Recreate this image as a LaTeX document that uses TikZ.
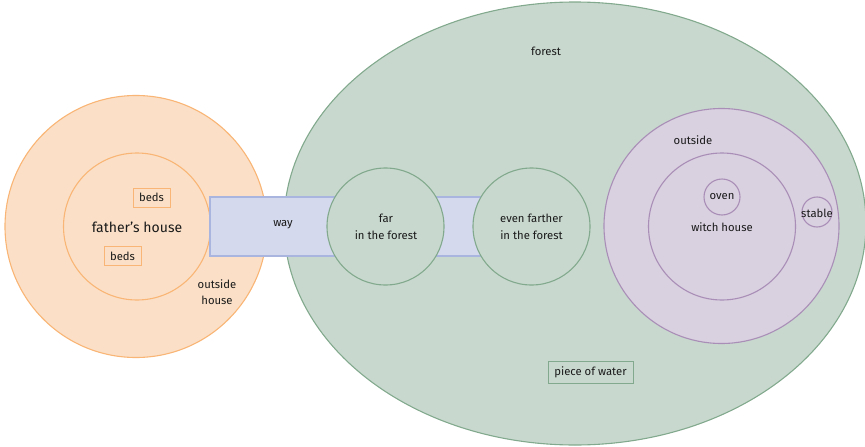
\documentclass[tikz,border=0pt]{standalone}
\usepackage{fontspec}
\setmainfont{Fira Sans}
\usetikzlibrary{shapes.geometric}
\definecolor{orfill}{HTML}{FBE0C7}
\definecolor{ordraw}{HTML}{F9B575}
\definecolor{grfill}{HTML}{C8D8CE}
\definecolor{grdraw}{HTML}{82A98D}
\definecolor{blfill}{HTML}{D4D9ED}
\definecolor{bldraw}{HTML}{A9B5DF}
\definecolor{pufill}{HTML}{D9D0E0}
\definecolor{pudraw}{HTML}{A98FB7}
\definecolor{txt}{HTML}{1A1A1A}
\tikzset{
  ring/.style={circle, inner sep=0pt, line width=1.1pt},
  orring/.style={ring, draw=ordraw, fill=orfill},
  grring/.style={ring, draw=grdraw, fill=grfill},
  puring/.style={ring, draw=pudraw, fill=pufill},
  lbl/.style={text=txt, align=center, inner sep=0pt,
    font=\fontsize{11.3}{16.5}\selectfont},
  tag/.style={lbl, draw, line width=1pt, inner xsep=3pt,
    minimum height=19pt}
}
\begin{document}
\begin{tikzpicture}[x=1pt, y=-1pt]
\useasboundingbox (0,0) rectangle (865,447);

% father's house and its surroundings
\node[orring, minimum size=262pt] (outsidehouse) at (136,226.5) {};
\node[orring, minimum size=147pt] (fathershouse) at (137,226.5) {};
\node[lbl, font=\fontsize{14}{17}\selectfont] (fhlabel) at (137,227) {father’s house};
\node[tag, draw=ordraw, minimum width=37pt] (beds1) at (151.5,197.5) {beds};
\node[tag, draw=ordraw, minimum width=37pt] (beds2) at (122.5,256) {beds};
\node[lbl] (ohlabel) at (217,292) {outside\\house};

% the forest
\node[ellipse, inner sep=0pt, line width=1.1pt, draw=grdraw, fill=grfill,
  minimum width=582pt, minimum height=443pt] (forest) at (575,223.5) {};
\node[lbl] (forestlabel) at (546,51) {forest};

% the way into the forest
\draw[line width=1.1pt, draw=bldraw, fill=blfill] (210,197) rectangle (500,256);
\node[lbl] (way) at (283,225) {way};

% places inside the forest
\node[grring, minimum size=117pt] (far) at (385.5,226.5) {};
\node[lbl] (farlabel) at (386,227) {far\\in the forest};
\node[grring, minimum size=117pt] (farther) at (531.5,226.5) {};
\node[lbl] (fartherlabel) at (531.5,227) {even farther\\in the forest};

% the witch's place
\node[puring, minimum size=235pt] (outside) at (721.5,226) {};
\node[lbl] (outsidelabel) at (693,140) {outside};
\node[puring, minimum size=147pt] (witchhouse) at (722,226.5) {};
\node[lbl] (whlabel) at (722,227) {witch house};
\node[puring, minimum size=36pt] (oven) at (722,197) {};
\node[lbl] (ovenlabel) at (722,197) {oven};
\node[puring, minimum size=30pt] (stable) at (817,212) {};
\node[lbl] (stablelabel) at (817,213) {stable};

% the water
\node[tag, draw=grdraw, minimum width=85pt, minimum height=22pt] (water) at (590.5,372) {piece of water};
\end{tikzpicture}
\end{document}
